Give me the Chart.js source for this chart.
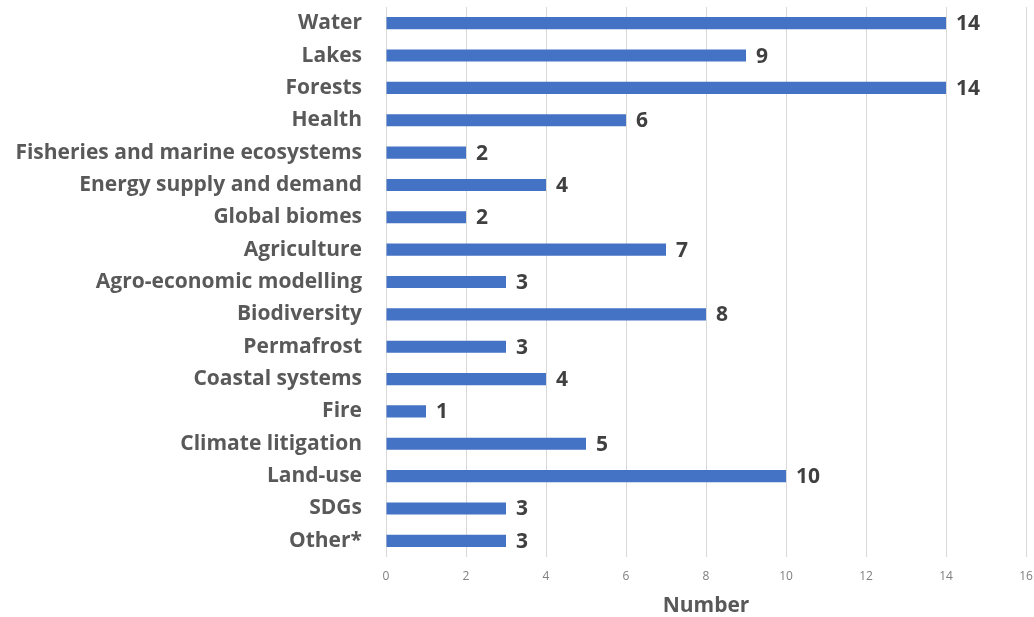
<!DOCTYPE html>
<html>
<head>
<meta charset="utf-8">
<script src="https://cdn.jsdelivr.net/npm/chart.js@4.4.0/dist/chart.umd.min.js"></script>
<style>
html,body{margin:0;padding:0;background:#fff;}
#wrap{width:1034px;height:617px;}
</style>
</head>
<body>
<div id="wrap"><canvas id="c" width="1034" height="617"></canvas></div>
<script>
const categories = ["Water","Lakes","Forests","Health","Fisheries and marine ecosystems","Energy supply and demand","Global biomes","Agriculture","Agro-economic modelling","Biodiversity","Permafrost","Coastal systems","Fire","Climate litigation","Land-use","SDGs","Other*"];
const values = [14,9,14,6,2,4,2,7,3,8,3,4,1,5,10,3,3];
const xMin = 0, xMax = 16, xStep = 2;
const axisTitle = "Number";

const FONT = "'Open Sans', Lato, sans-serif";

const valueLabels = {
  id: 'valueLabels',
  afterDatasetsDraw(chart) {
    const ctx = chart.ctx;
    const meta = chart.getDatasetMeta(0);
    ctx.save();
    ctx.fillStyle = '#404040';
    ctx.font = 'bold 21px ' + FONT;
    ctx.textAlign = 'left';
    ctx.textBaseline = 'middle';
    meta.data.forEach((bar, i) => {
      ctx.fillText(String(values[i]), bar.x + 10, bar.y + 1);
    });
    ctx.restore();
  }
};

new Chart(document.getElementById('c'), {
  type: 'bar',
  data: {
    labels: categories,
    datasets: [{
      data: values,
      backgroundColor: '#4472C4',
      borderWidth: 0,
      barPercentage: 0.75,
      categoryPercentage: 0.5
    }]
  },
  options: {
    indexAxis: 'y',
    responsive: false,
    animation: false,
    devicePixelRatio: 1,
    layout: { padding: { top: 7, right: 8, left: 0, bottom: 0 } },
    plugins: { legend: { display: false }, tooltip: { enabled: false } },
    scales: {
      x: {
        min: xMin, max: xMax,
        ticks: { stepSize: xStep, color: '#7f7f7f', font: { family: FONT, size: 12 }, padding: 12 },
        grid: { color: '#d9d9d9', lineWidth: 1, drawTicks: false },
        border: { display: false },
        title: { display: true, text: axisTitle, color: '#595959', font: { family: FONT, size: 21, weight: 'bold', lineHeight: 1 }, padding: { top: 4, bottom: 0 } },
        afterFit(scale) { scale.paddingLeft = 0; scale.paddingRight = 0; scale.height = 60; }
      },
      y: {
        ticks: { color: '#595959', font: { family: FONT, size: 21, weight: 'bold' }, padding: 24, autoSkip: false },
        grid: { display: false, drawTicks: false },
        border: { display: false },
        afterFit(scale) { scale.width = 386; scale.paddingTop = 0; scale.paddingBottom = 0; }
      }
    }
  },
  plugins: [valueLabels]
});
</script>
</body>
</html>
